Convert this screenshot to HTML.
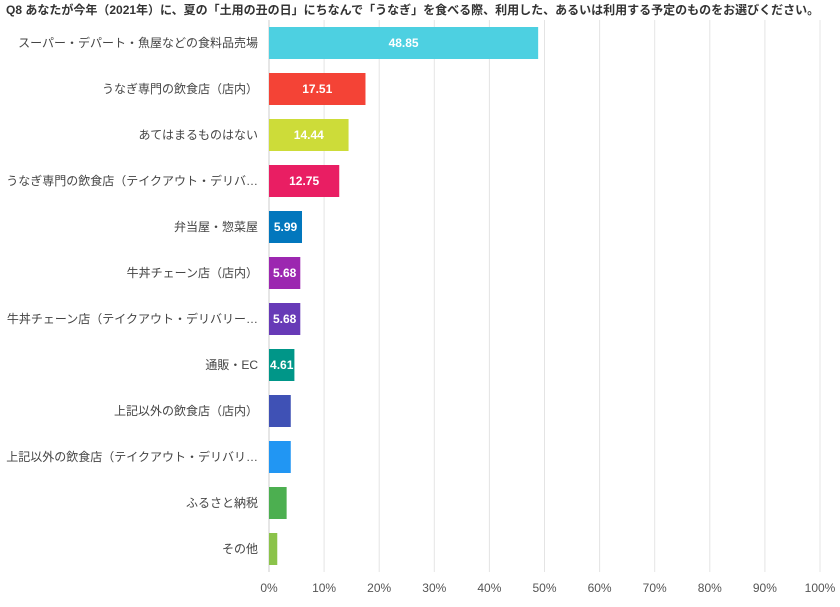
<!DOCTYPE html>
<html><head><meta charset="utf-8"><style>
body{margin:0;background:#fff;font-family:"Liberation Sans","Noto Sans CJK JP",sans-serif;}
svg text{font-family:"Liberation Sans","Noto Sans CJK JP",sans-serif;}
</style></head><body>
<svg id="chart" width="840" height="602"></svg>
<script>
const categories=["スーパー・デパート・魚屋などの食料品売場","うなぎ専門の飲食店（店内）","あてはまるものはない","うなぎ専門の飲食店（テイクアウト・デリバ…","弁当屋・惣菜屋","牛丼チェーン店（店内）","牛丼チェーン店（テイクアウト・デリバリー…","通販・EC","上記以外の飲食店（店内）","上記以外の飲食店（テイクアウト・デリバリ…","ふるさと納税","その他"];
const values=[48.85,17.51,14.44,12.75,5.99,5.68,5.68,4.61,3.95,3.95,3.2,1.5];
const valueLabels=["48.85","17.51","14.44","12.75","5.99","5.68","5.68","4.61","","","",""];
const colors=["#4dd0e1","#f44336","#cddc39","#e91e63","#0277bd","#9c27b0","#673ab7","#009688","#3f51b5","#2196f3","#4caf50","#8bc34a"];
const ticks=[0,10,20,30,40,50,60,70,80,90,100];
const NS="http://www.w3.org/2000/svg";
const svg=document.getElementById('chart');
const x0=269,x1=820,yTop=20,yBot=572;
const xs=v=>x0+(v/100)*(x1-x0);
const band=(yBot-yTop)/categories.length;
const yc=i=>yTop+band*(i+0.5);
function mk(t,a){const e=document.createElementNS(NS,t);for(const k in a)e.setAttribute(k,a[k]);svg.appendChild(e);return e;}
const title=mk('text',{x:6,y:14,'font-size':12,'font-weight':'bold',fill:'#333'});


title.textContent="Q8 あなたが今年（2021年）に、夏の「土用の丑の日」にちなんで「うなぎ」を食べる際、利用した、あるいは利用する予定のものをお選びください。";
ticks.forEach(t=>{
  const l=mk('line',{x1:xs(t),x2:xs(t),y1:yTop,y2:yBot,stroke:t===0?'#ccc':'#e4e4e4','stroke-width':1});
  
  
  const tx=mk('text',{x:xs(t),y:592,'font-size':12,fill:'#555','text-anchor':'middle'});
  
  
  tx.textContent=t+'%';
});
categories.forEach((c,i)=>{
  const lb=mk('text',{x:258,y:yc(i)+4,'font-size':12,fill:'#444','text-anchor':'end'});
  
  
  lb.textContent=c;
  const r=mk('rect',{x:xs(0),y:yc(i)-16,width:xs(values[i])-xs(0),height:32,fill:colors[i]});
  
  
  if(valueLabels[i]){
    const v=mk('text',{x:(xs(0)+xs(values[i]))/2,y:yc(i)+4,'font-size':12,'font-weight':'bold',fill:'#fff','text-anchor':'middle'});
    
    
    v.textContent=valueLabels[i];
  }
});
</script>
</body></html>
